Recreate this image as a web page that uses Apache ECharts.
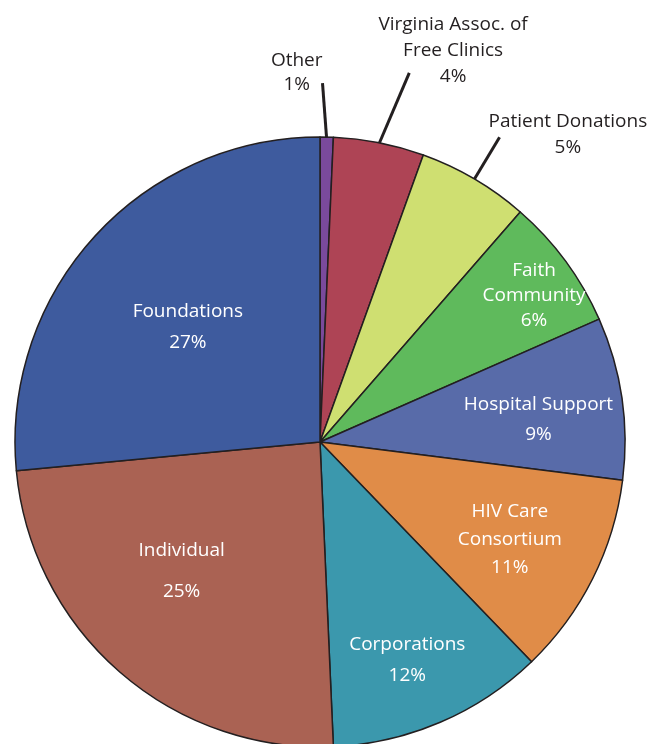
<!DOCTYPE html>
<html>
<head>
<meta charset="utf-8">
<style>
  html, body { margin: 0; padding: 0; background: #fff; }
  #main { width: 651px; height: 744px; }
</style>
<script src="https://cdn.jsdelivr.net/npm/echarts@6/dist/echarts.min.js"></script>
</head>
<body>
<div id="main"></div>
<script>
// slices, clockwise from 12 o'clock
var categories = ['Other', 'Virginia Assoc. of\nFree Clinics', 'Patient Donations', 'Faith\nCommunity',
    'Hospital Support', 'HIV Care\nConsortium', 'Corporations', 'Individual', 'Foundations'];
var values = [0.7, 4.8, 5.9, 7.0, 8.6, 10.8, 11.5, 24.2, 26.5];
var percentLabels = ['1%', '4%', '5%', '6%', '9%', '11%', '12%', '25%', '27%'];
var colors = ['#7a4a9c', '#ae4455', '#cfdf71', '#5fba5c', '#586ba9', '#e08c48', '#3b98ad', '#aa6253', '#3e5b9e'];

// label placement (styles, not data)
var outsideCount = 3;
var lineHeights = [24, 26, 26, 25, 30, 28, 31, 41, 31];
var labelAngleShift = [0, 0, 0, 2, 2.5, 0.6, 1.4, 6, -1.2];
var labelRadius = [0, 0, 0, 0.85, 0.72, 0.70, 0.77, 0.62, 0.575];
var outerLineEnd = [[0.4, 1.177], [13.6, 1.245], [30.5, 1.16]];
var outerLabelPos = [[-3.6, 1.215], [18.8, 1.354], [38.9, 1.294]];

var cx = 320, cy = 442, R = 305;
var total = values.reduce(function (a, b) { return a + b; }, 0);
var midAngles = [];
var acc = 0;
values.forEach(function (v) {
    midAngles.push((acc + v / 2) / total * 360);
    acc += v;
});

function polar(deg, r) {
    var a = deg * Math.PI / 180;
    return [cx + r * Math.sin(a), cy - r * Math.cos(a)];
}

var myChart = echarts.init(document.getElementById('main'));

var pieData = categories.map(function (name, i) {
    var outside = i < outsideCount;
    return {
        name: name,
        value: values[i],
        itemStyle: { color: colors[i] },
        label: {
            position: outside ? 'outside' : 'inside',
            color: outside ? '#231f20' : '#ffffff',
            lineHeight: lineHeights[i]
        },
        labelLine: { show: outside }
    };
});

myChart.setOption({
    animation: false,
    series: [{
        type: 'pie',
        center: [cx, cy],
        radius: R,
        startAngle: 90,
        clockwise: true,
        avoidLabelOverlap: false,
        itemStyle: { borderColor: '#231f20', borderWidth: 1.5 },
        label: {
            fontFamily: 'Open Sans',
            fontSize: 19,
            formatter: function (p) { return p.name + '\n' + percentLabels[p.dataIndex]; }
        },
        labelLine: {
            length: 40,
            length2: 0,
            lineStyle: { color: '#231f20', width: 3 }
        },
        labelLayout: function (params) {
            var i = params.dataIndex;
            if (i < outsideCount) {
                var start = polar(midAngles[i], R - 2);
                var end = polar(outerLineEnd[i][0], outerLineEnd[i][1] * R);
                var pos = polar(outerLabelPos[i][0], outerLabelPos[i][1] * R);
                return {
                    x: pos[0], y: pos[1], align: 'center', verticalAlign: 'middle',
                    labelLinePoints: [start, end, end]
                };
            }
            var p = polar(midAngles[i] + labelAngleShift[i], labelRadius[i] * R);
            return { x: p[0], y: p[1], align: 'center', verticalAlign: 'middle' };
        },
        emphasis: { disabled: true },
        data: pieData
    }]
});
</script>
</body>
</html>
